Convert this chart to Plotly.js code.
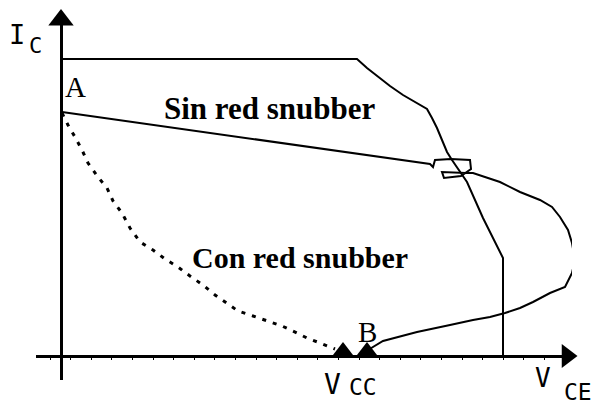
<!DOCTYPE html>
<html>
<head>
<meta charset="utf-8">
<script src="https://cdn.plot.ly/plotly-3.0.1.min.js"></script>
<style>
  html, body { margin: 0; padding: 0; background: #fff; }
  #grafica { width: 595px; height: 408px; }
</style>
</head>
<body>
<div id="grafica"></div>
<script>
// unidades arbitrarias: VCE hacia la derecha, IC hacia arriba, origen en el cruce de ejes
let negro = '#000000';

// area de operacion segura (SOA)
let soaV = [0, 296, 306, 319, 329, 342, 354, 366, 371, 376, 381, 386, 391, 406, 422, 442, 442];
let soaI = [297, 297, 288, 278, 270, 261, 254, 247, 238, 228, 216, 204, 196, 174, 138, 98, 0];

// trayectoria sin red snubber (A -> B)
let sinV = [1, 369, 372, 374, 390, 409, 410, 400, 383, 381, 405, 412, 439, 459, 479, 491, 499, 507, 511, 514, 511, 504, 489, 472, 459, 444, 429, 412, 389, 356, 322, 307];
let sinI = [244, 192, 189, 196, 197, 196, 187, 180, 178, 184, 183, 183, 174, 164, 156, 149, 139, 126, 113, 96, 83, 69, 63, 54, 48, 43, 39, 36, 31, 24, 15, 6];

// trayectoria con red snubber (A -> Vcc)
let conV = [1, 7, 14, 21, 27, 37, 46, 52, 61, 69, 79, 92, 104, 117, 129, 142, 154, 166, 177, 192, 206, 221, 236, 246, 259, 274];
let conI = [243, 231, 219, 206, 193, 179, 168, 155, 143, 128, 114, 106, 97, 89, 80, 71, 61, 53, 45, 40, 35, 30, 23, 18, 13, 7];

// flechas de los ejes
let flechaV = [0, 506];
let flechaI = [336, 0];

const trazos = [
    { x: soaV, y: soaI, mode: 'lines', line: { color: negro, width: 2 } },
    { x: sinV, y: sinI, mode: 'lines', line: { color: negro, width: 2 } },
    { x: conV, y: conI, mode: 'lines', line: { color: negro, width: 3, dash: '4px,7px' } },
    {
        x: [conV[conV.length - 1] + 8, sinV[sinV.length - 1] - 1],
        y: [4.5, 4.5],
        mode: 'markers', cliponaxis: false,
        marker: { symbol: 'triangle-up', size: 19, color: negro, opacity: 1, line: { width: 0 } }
    },
    {
        x: [flechaV[0]], y: [flechaI[0]], mode: 'markers', cliponaxis: false,
        marker: { symbol: 'triangle-up', size: 22, color: negro, opacity: 1, line: { width: 0 } }
    },
    {
        x: [flechaV[1]], y: [flechaI[1]], mode: 'markers', cliponaxis: false,
        marker: { symbol: 'triangle-right', size: 21, color: negro, opacity: 1, line: { width: 0 } }
    }
];

const mono = { family: 'DejaVu Sans Mono', color: negro };
const serif = { family: 'Liberation Serif', color: negro };

// etiqueta en coordenadas de datos
function etiqueta(texto, x, y, fuente, tam) {
    return { text: texto, x: x, y: y, xref: 'x', yref: 'y', showarrow: false,
             xanchor: 'center', yanchor: 'middle', font: Object.assign({ size: tam }, fuente) };
}
// etiqueta en pixeles de la figura (fuera de los ejes)
function etiquetaPx(texto, px, py, fuente, tam) {
    return { text: texto, x: px / 595, y: 1 - py / 408, xref: 'paper', yref: 'paper', showarrow: false,
             xanchor: 'center', yanchor: 'middle', font: Object.assign({ size: tam }, fuente) };
}

const layout = {
    width: 595, height: 408,
    margin: { l: 0, r: 0, t: 0, b: 0 },
    paper_bgcolor: '#fff', plot_bgcolor: '#fff',
    showlegend: false,
    xaxis: {
        domain: [36 / 595, 572 / 595], range: [-25, 511],
        anchor: 'free', position: 52 / 408,
        showline: true, linewidth: 3, linecolor: negro,
        ticks: 'outside', ticklen: 2, tickwidth: 1, tickcolor: negro, tick0: -11, dtick: 20.6,
        showticklabels: false, showgrid: false, zeroline: false
    },
    yaxis: {
        domain: [28 / 408, 388 / 408], range: [-24, 336],
        anchor: 'free', position: 61 / 595,
        showline: true, linewidth: 3, linecolor: negro,
        ticks: '', showticklabels: false, showgrid: false, zeroline: false
    },
    annotations: [
        etiquetaPx('I', 17, 34, mono, 27),
        etiquetaPx('C', 35, 45, mono, 22),
        etiqueta('A', 14, 269, serif, 29),
        etiqueta('B', 306, 24, serif, 29),
        etiquetaPx('V', 332, 384, mono, 28),
        etiquetaPx('CC', 363, 387, mono, 23),
        etiquetaPx('V', 543, 378, mono, 26),
        etiquetaPx('CE', 578, 392, mono, 23),
        etiqueta('<b>Sin red snubber</b>', 209, 248, serif, 31),
        etiqueta('<b>Con red snubber</b>', 239, 99, serif, 30)
    ]
};

Plotly.newPlot('grafica', trazos, layout, { displayModeBar: false, staticPlot: true });
</script>
</body>
</html>
